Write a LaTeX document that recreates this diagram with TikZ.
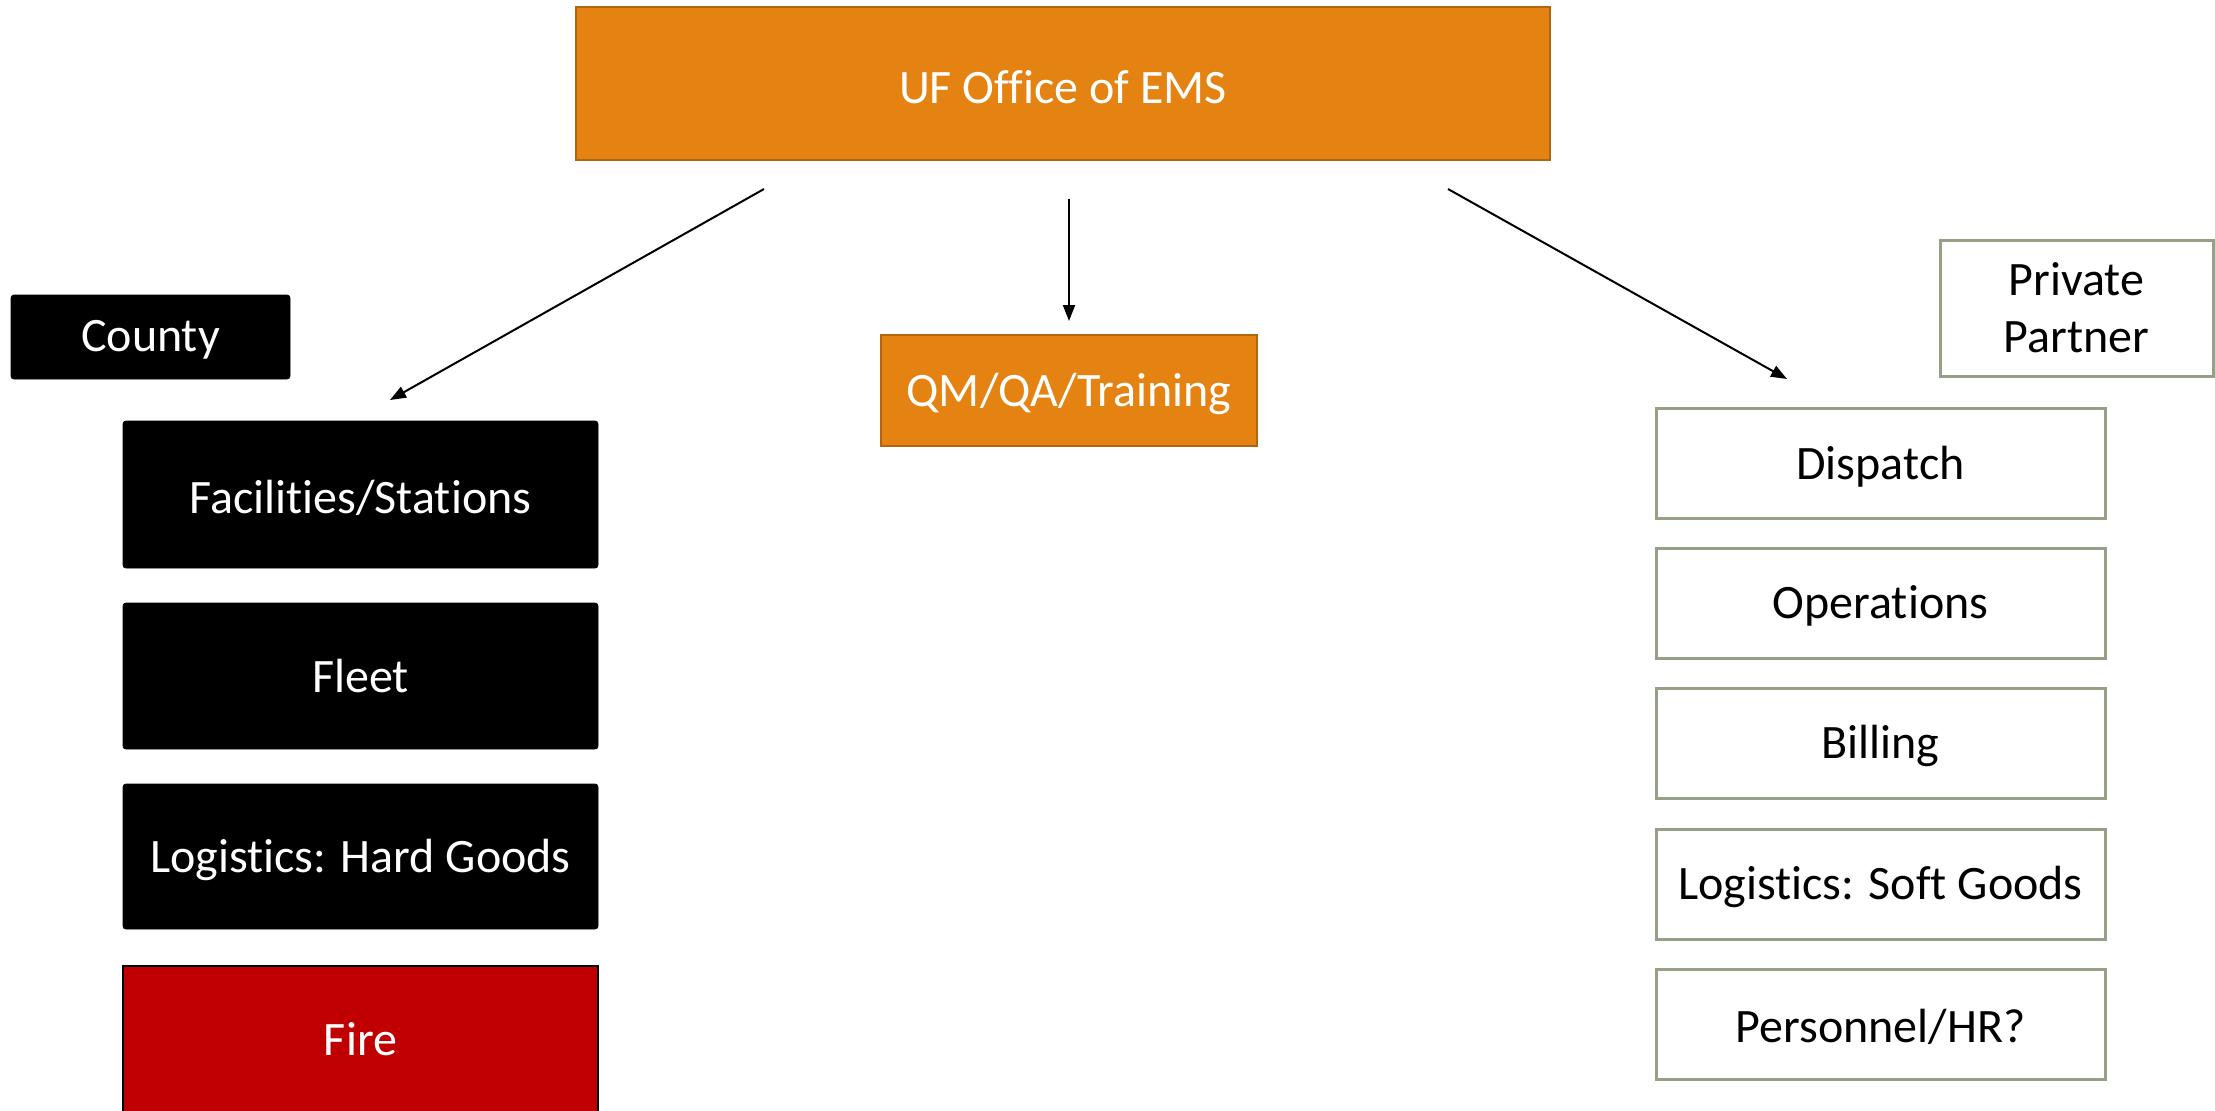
\documentclass[tikz,border=0pt]{standalone}
\usepackage{fontspec}
\setmainfont{Carlito}[RawFeature={-liga;-clig;-calt;-dlig;-rlig}]
\usetikzlibrary{arrows.meta}
\definecolor{emsorange}{HTML}{E48312}
\definecolor{emsorangedark}{HTML}{B0650E}
\definecolor{firered}{HTML}{C00000}
\definecolor{partnergray}{HTML}{95A086}
\newcommand\lowtxt[1]{\raisebox{-1.6pt}[\height][\depth]{#1}}
\tikzset{
  every node/.style={font=\fontsize{24}{28.5}\selectfont, align=center, inner sep=0pt},
  orangebox/.style={draw=emsorangedark, fill=emsorange, line width=1.2pt, text=white},
  blackbox/.style={draw=black, fill=black, rounded corners=1.5pt, text=white},
  firebox/.style={draw=black, fill=firered, line width=1.2pt, text=white},
  partnerbox/.style={draw=partnergray, fill=white, line width=1.5pt, text=black},
  conn/.style={line width=1pt, -{Triangle[length=8pt,width=6pt]}}
}
\begin{document}
\begin{tikzpicture}[x=0.5pt,y=-0.5pt]
\useasboundingbox (0,0) rectangle (2215,1110);
% top
\node[orangebox, minimum width=487pt, minimum height=76.5pt] (ems) at (1063,83.5) {\lowtxt{UF Office of EMS}};
\node[orangebox, minimum width=188pt, minimum height=55.5pt] (qm) at (1069,390.5) {\lowtxt{QM/QA/Training}};
% county column
\node[blackbox, minimum width=139.5pt, minimum height=42pt] (county) at (150.5,337) {\lowtxt{County}};
\node[blackbox, minimum width=237.5pt, minimum height=73.5pt] (fac) at (360.5,494.5) {\lowtxt{Facilities/Stations}};
\node[blackbox, minimum width=237.5pt, minimum height=73pt] (fleet) at (360.5,676) {Fleet};
\node[blackbox, minimum width=237.5pt, minimum height=72.5pt] (hard) at (360.5,856.5) {\lowtxt{Logistics: Hard Goods}};
\node[firebox, minimum width=237.5pt, minimum height=73pt] (fire) at (360.5,1039) {Fire};
% private column
\node[partnerbox, minimum width=136.5pt, minimum height=68pt] (priv) at (2076.5,308) {Private\\Partner};
\node[partnerbox, minimum width=224.5pt, minimum height=55pt] (disp) at (1880.5,463) {\lowtxt{Dispatch}};
\node[partnerbox, minimum width=224.5pt, minimum height=55pt] (ops) at (1880.5,603) {\lowtxt{Operations}};
\node[partnerbox, minimum width=224.5pt, minimum height=55pt] (bill) at (1880.5,743) {\lowtxt{Billing}};
\node[partnerbox, minimum width=224.5pt, minimum height=55pt] (soft) at (1880.5,884) {\lowtxt{Logistics: Soft Goods}};
\node[partnerbox, minimum width=224.5pt, minimum height=55pt] (hr) at (1880.5,1024) {\lowtxt{Personnel/HR?}};
% connectors
\coordinate (a1s) at (764,189);
\coordinate (a1e) at (390,400);
\coordinate (a2s) at (1069,199);
\coordinate (a2e) at (1069,321);
\coordinate (a3s) at (1448,189);
\coordinate (a3e) at (1787,379);
\draw[conn] (a1s) -- (a1e);
\draw[conn] (a2s) -- (a2e);
\draw[conn] (a3s) -- (a3e);
\end{tikzpicture}
\end{document}
